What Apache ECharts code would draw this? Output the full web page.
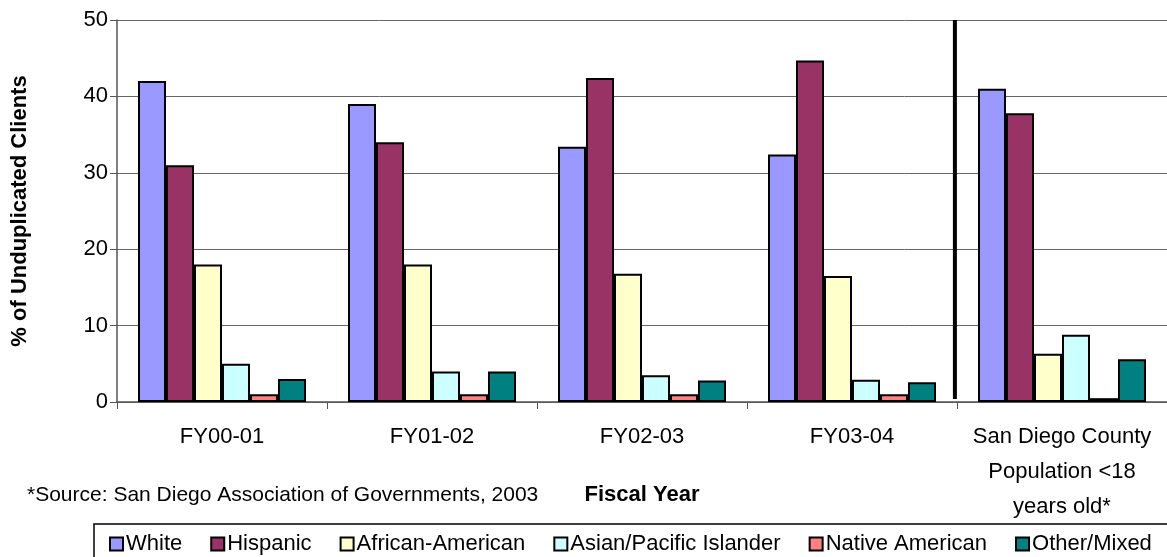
<!DOCTYPE html>
<html>
<head>
<meta charset="utf-8">
<script src="https://cdn.jsdelivr.net/npm/echarts@6/dist/echarts.min.js"></script>
<style>
html,body{margin:0;padding:0;background:#fff;}
#chart{width:1167px;height:557px;}
</style>
</head>
<body>
<div id="chart"></div>
<script>
var categories = ['FY00-01', 'FY01-02', 'FY02-03', 'FY03-04', 'San Diego County\nPopulation <18\nyears old*'];
var seriesNames = ['White', 'Hispanic', 'African-American', 'Asian/Pacific Islander', 'Native American', 'Other/Mixed'];
var white = [42, 39, 33.4, 32.4, 41];
var hispanic = [31, 34, 42.4, 44.7, 37.8];
var africanAmerican = [18, 18, 16.8, 16.5, 6.3];
var asianPacific = [5, 4, 3.5, 2.9, 8.8];
var nativeAmerican = [1, 1, 1, 1, 0.5];
var otherMixed = [3, 4, 2.8, 2.6, 5.6];
var yTicks = [0, 10, 20, 30, 40, 50];
var dividerAt = [[3.99, 0.4], [3.99, 50]];
var sourceNote = '*Source: San Diego Association of Governments, 2003';

var colors = ['#9999FF', '#993366', '#FFFFCC', '#CCFFFF', '#FF8080', '#008080'];
var values = [white, hispanic, africanAmerican, asianPacific, nativeAmerican, otherMixed];
var FONT = '"Liberation Sans", Arial, sans-serif';

var chart = echarts.init(document.getElementById('chart'), null, {renderer: 'canvas'});
var series = seriesNames.map(function (n, i) {
  return {
    name: n, type: 'bar', data: values[i],
    barGap: '0%', barCategoryGap: '20%',
    itemStyle: {color: colors[i], borderColor: '#000', borderWidth: 2},
    emphasis: {disabled: true}
  };
});
series.push({
  name: 'divider', type: 'line', xAxisIndex: 1, data: dividerAt,
  symbol: 'none', lineStyle: {color: '#000', width: 4}, silent: true, z: 5
});

chart.setOption({
  animation: false,
  textStyle: {fontFamily: FONT},
  title: {
    text: sourceNote, left: 22, top: 480,
    textStyle: {fontFamily: FONT, fontSize: 21, fontWeight: 'normal', color: '#000'}
  },
  grid: {left: 117, right: -5, top: 20, bottom: 155, containLabel: false},
  legend: {
    data: seriesNames, left: 94, top: 524, width: 1100,
    padding: [9, 16, 30, 15],
    itemGap: 28, itemWidth: 13, itemHeight: 13,
    icon: 'rect',
    borderColor: '#000', borderWidth: 1.5,
    itemStyle: {borderColor: '#000', borderWidth: 2},
    textStyle: {fontFamily: FONT, fontSize: 22, color: '#000', padding: [0, 0, 0, -2]}
  },
  xAxis: [{
    type: 'category', data: categories,
    axisLine: {lineStyle: {color: '#555', width: 1.5}},
    axisTick: {show: true, length: 7, interval: 0, lineStyle: {color: '#555'}},
    axisLabel: {fontFamily: FONT, fontSize: 22, color: '#000', margin: 17, lineHeight: 35, interval: 0},
    name: 'Fiscal Year', nameLocation: 'middle', nameGap: 82, nameMoveOverlap: false,
    nameTextStyle: {fontFamily: FONT, fontSize: 22, fontWeight: 'bold', color: '#000', lineHeight: 22}
  }, {
    type: 'value', min: 0, max: 5, show: false
  }],
  yAxis: {
    type: 'value', min: yTicks[0], max: yTicks[yTicks.length - 1], interval: 10,
    axisLine: {show: true, lineStyle: {color: '#555', width: 1.5}},
    axisTick: {show: true, length: 7, lineStyle: {color: '#555'}},
    axisLabel: {fontFamily: FONT, fontSize: 22, color: '#000', margin: 9},
    splitLine: {lineStyle: {color: '#666', width: 1}},
    name: '% of Unduplicated Clients', nameLocation: 'middle', nameGap: 86, nameRotate: 90,
    nameTextStyle: {fontFamily: FONT, fontSize: 22, fontWeight: 'bold', color: '#000'}
  },
  series: series
});
</script>
</body>
</html>
